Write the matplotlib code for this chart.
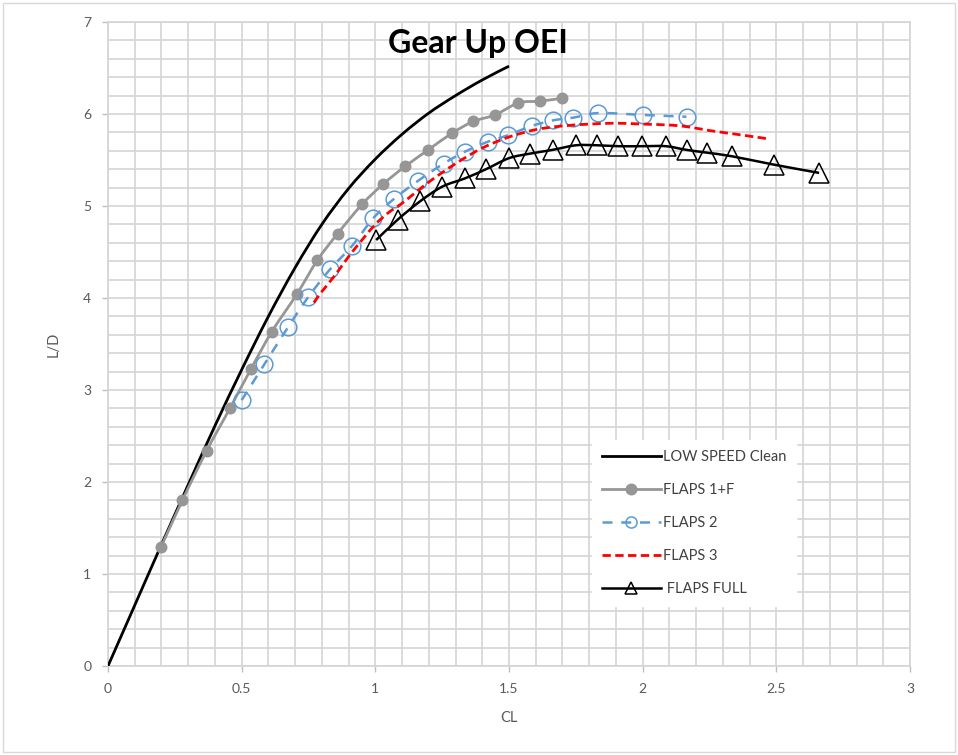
import matplotlib
matplotlib.use("Agg")
import matplotlib.pyplot as plt
from matplotlib.ticker import MultipleLocator, FuncFormatter
from matplotlib.patches import Rectangle, PathPatch
from matplotlib.path import Path
from matplotlib.lines import Line2D

# ---------------- data ----------------
clean_cl = [0.0, 0.1, 0.2, 0.3, 0.4, 0.5, 0.6, 0.7, 0.8, 0.9, 1.0, 1.1, 1.2, 1.3, 1.4, 1.5]
clean_ld = [0.0, 0.66, 1.32, 1.97, 2.61, 3.22, 3.80, 4.33, 4.80, 5.19, 5.51, 5.78, 6.01, 6.20, 6.37, 6.52]

f1_cl = [0.198, 0.278, 0.369, 0.456, 0.535, 0.612, 0.706, 0.783, 0.859, 0.951, 1.030,
         1.111, 1.198, 1.286, 1.367, 1.448, 1.535, 1.616, 1.697]
f1_ld = [1.29, 1.80, 2.34, 2.80, 3.23, 3.63, 4.04, 4.41, 4.70, 5.02, 5.24,
         5.43, 5.61, 5.79, 5.92, 5.99, 6.12, 6.14, 6.17]

f2_cl = [0.500, 0.585, 0.675, 0.749, 0.830, 0.914, 0.993, 1.071, 1.158, 1.255, 1.335,
         1.422, 1.497, 1.585, 1.663, 1.740, 1.834, 2.000, 2.164]
f2_ld = [2.89, 3.28, 3.69, 4.01, 4.31, 4.57, 4.87, 5.08, 5.27, 5.46, 5.59,
         5.70, 5.77, 5.87, 5.93, 5.96, 6.01, 5.99, 5.97]

f3_cl = [0.77, 0.80, 0.85, 0.90, 0.95, 1.00, 1.05, 1.10, 1.20, 1.30, 1.40, 1.50, 1.60,
         1.70, 1.80, 1.90, 2.00, 2.10, 2.17, 2.25, 2.35, 2.47]
f3_ld = [3.95, 4.07, 4.25, 4.45, 4.63, 4.80, 4.93, 5.03, 5.26, 5.46, 5.63, 5.75, 5.83,
         5.87, 5.89, 5.90, 5.89, 5.88, 5.86, 5.82, 5.78, 5.73]

ff_cl = [1.003, 1.083, 1.167, 1.250, 1.335, 1.414, 1.500, 1.580, 1.663, 1.750, 1.830,
         1.908, 1.996, 2.087, 2.164, 2.240, 2.335, 2.490, 2.660]
ff_ld = [4.63, 4.85, 5.05, 5.21, 5.30, 5.40, 5.52, 5.57, 5.61, 5.66, 5.66,
         5.65, 5.65, 5.65, 5.61, 5.58, 5.54, 5.45, 5.36]

labels = ["LOW SPEED Clean", "FLAPS 1+F", "FLAPS 2", "FLAPS 3", " FLAPS FULL"]
title = "Gear Up OEI"
xlabel = "CL"
ylabel = "L/D"


def smooth_path(xs, ys):
    """Smoothed (Catmull-Rom as cubic Bezier) path through the data points, like Excel's smoothed line."""
    pts = list(zip(xs, ys))
    n = len(pts)
    verts = [pts[0]]
    codes = [Path.MOVETO]
    for i in range(n - 1):
        p0 = pts[i - 1] if i > 0 else pts[i]
        p1 = pts[i]
        p2 = pts[i + 1]
        p3 = pts[i + 2] if i + 2 < n else pts[i + 1]
        c1 = (p1[0] + (p2[0] - p0[0]) / 6, p1[1] + (p2[1] - p0[1]) / 6)
        c2 = (p2[0] - (p3[0] - p1[0]) / 6, p2[1] - (p3[1] - p1[1]) / 6)
        verts += [c1, c2, p2]
        codes += [Path.CURVE4, Path.CURVE4, Path.CURVE4]
    return Path(verts, codes)


# ---------------- figure ----------------
plt.rcParams['font.family'] = ['Lato', 'DejaVu Sans']
W, H = 958, 755
fig = plt.figure(figsize=(W / 100, H / 100), dpi=100)
fig.patches.append(Rectangle((3 / W, 3 / H), 1 - 6 / W, 1 - 6 / H, transform=fig.transFigure,
                             fill=False, edgecolor='#d9d9d9', linewidth=1))

ax = fig.add_axes([108 / W, (H - 666) / H, (910 - 108) / W, (666 - 22) / H])
ax.set_xlim(0, 3)
ax.set_ylim(0, 7)
ax.xaxis.set_major_locator(MultipleLocator(0.5))
ax.xaxis.set_minor_locator(MultipleLocator(0.1))
ax.yaxis.set_major_locator(MultipleLocator(1))
ax.yaxis.set_minor_locator(MultipleLocator(0.2))
ax.xaxis.set_major_formatter(FuncFormatter(lambda v, p: f"{v:g}"))
ax.yaxis.set_major_formatter(FuncFormatter(lambda v, p: f"{v:g}"))
grid_c = '#d4d4d4'
ax.grid(True, which='both', color=grid_c, linewidth=1.2)
ax.set_axisbelow(True)
for s in ax.spines.values():
    s.set_color(grid_c)
    s.set_linewidth(1.2)
ax.tick_params(which='major', length=4, width=1, color='#bfbfbf', labelcolor='#595959',
               labelsize=10, pad=8)
ax.tick_params(which='minor', length=0)

styles = [
    dict(color='black', lw=2.0, ls='-', marker=None),
    dict(color='#969696', lw=2.0, ls='-', marker='o', ms=7.5, mfc='#969696', lms=7.5),
    dict(color='#5b9bd5', lw=1.8, ls=(0, (4, 3.5)), marker='o', ms=12, mfc='none', lms=8),
    dict(color='#ff0000', lw=2.0, ls=(0, (3, 1.6)), marker=None),
    dict(color='black', lw=1.8, ls='-', marker='^', ms=14, mfc='none', lms=8),
]
series = [(clean_cl, clean_ld), (f1_cl, f1_ld), (f2_cl, f2_ld), (f3_cl, f3_ld), (ff_cl, ff_ld)]

handles = []
for (xs, ys), st, z in zip(series, styles, [3, 3, 3, 3, 4]):
    ax.add_patch(PathPatch(smooth_path(xs, ys), fill=False, edgecolor=st['color'],
                           linewidth=st['lw'], linestyle=st['ls'], zorder=z,
                           transform=ax.transData))
    if st['marker']:
        ax.plot(xs, ys, linestyle='none', marker=st['marker'], markersize=st['ms'],
                markerfacecolor=st['mfc'], markeredgecolor=st['color'], markeredgewidth=1.1,
                zorder=z)
        handles.append(Line2D([], [], color=st['color'], linewidth=st['lw'], linestyle=st['ls'],
                              marker=st['marker'], markersize=st['lms'], markerfacecolor=st['mfc'],
                              markeredgecolor=st['color'], markeredgewidth=1.1))
    else:
        handles.append(Line2D([], [], color=st['color'], linewidth=st['lw'], linestyle=st['ls']))

ax.set_xlabel(xlabel, color='#595959', fontsize=10.5, labelpad=12)
ax.set_ylabel(ylabel, color='#595959', fontsize=10.5, labelpad=16)

fig.text(478 / W, 1 - 43 / H, title, fontsize=23, fontweight='bold', ha='center', va='center',
         color='black')

leg = ax.legend(handles=handles, labels=labels, loc='upper left',
                bbox_to_anchor=(592 / W, 1 - 440 / H),
                bbox_transform=fig.transFigure, frameon=True, fancybox=False,
                handlelength=4.0, handletextpad=0.15, labelspacing=1.3,
                fontsize=10.5, borderpad=0.7, borderaxespad=0)
leg.get_frame().set_facecolor('white')
leg.get_frame().set_edgecolor('white')
leg.get_frame().set_alpha(1)
for t in leg.get_texts():
    t.set_color('#404040')

fig.savefig('out.png', dpi=100)
